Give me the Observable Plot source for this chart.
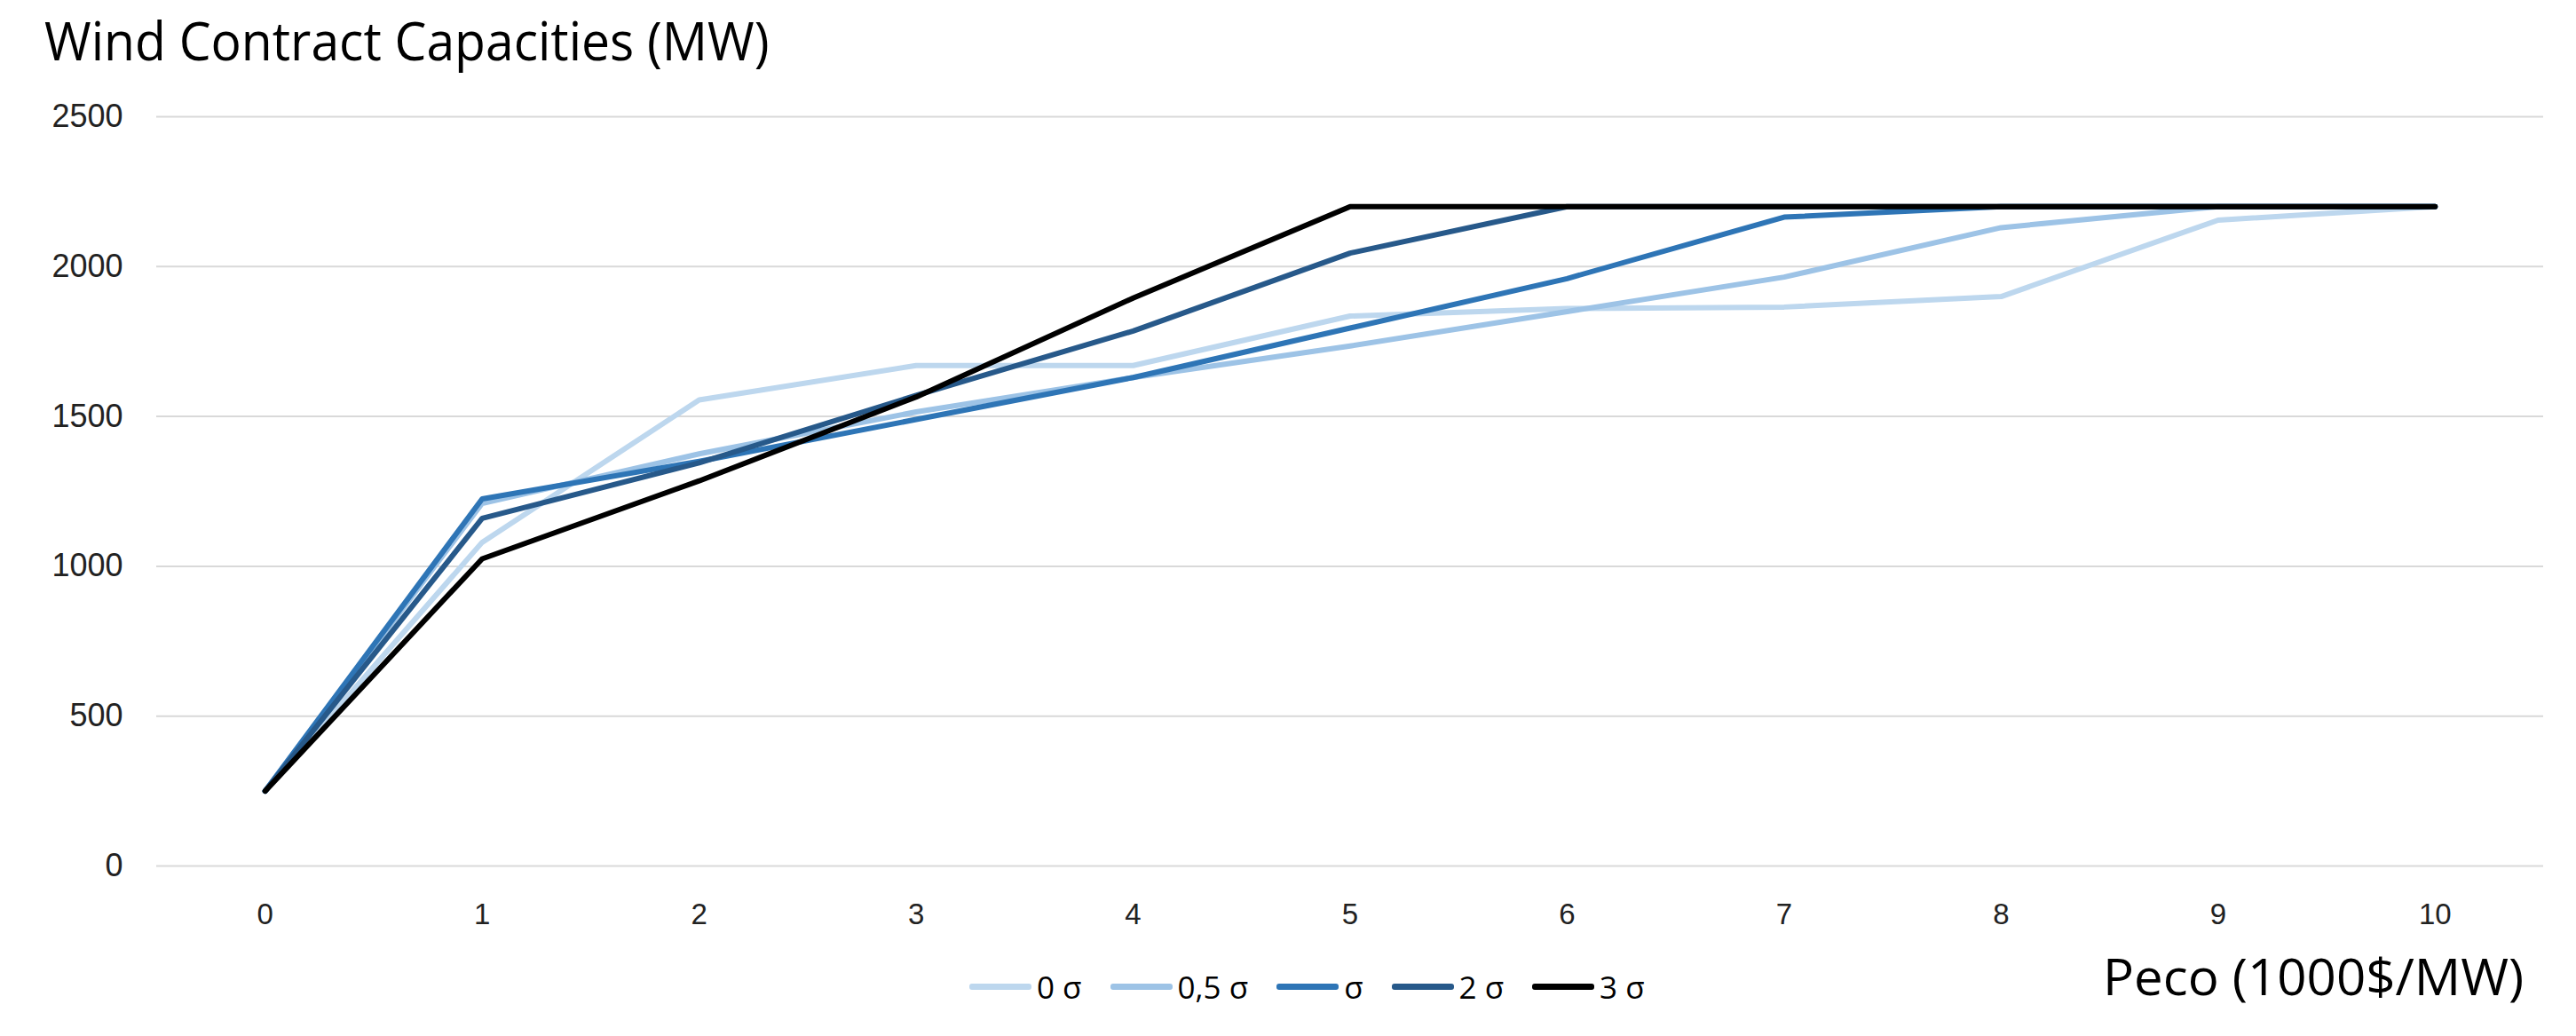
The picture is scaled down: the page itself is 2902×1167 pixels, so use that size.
<!DOCTYPE html>
<html>
<head>
<meta charset="utf-8">
<script src="https://cdn.jsdelivr.net/npm/d3@7"></script>
<script src="https://cdn.jsdelivr.net/npm/@observablehq/plot@0.6"></script>
<style>
  html, body { margin: 0; padding: 0; background: #fff; }
  #wrap { position: relative; width: 2902px; height: 1167px; overflow: hidden; }
  #chart { position: absolute; left: 0; top: 0; }
  #title { position: absolute; left: 50px; top: 4px; font-family: "Open Sans", sans-serif; font-size: 60px; color: #000; white-space: nowrap; transform-origin: left top; transform: scaleX(0.95); }
  #xtitle { position: absolute; left: 2369px; top: 1061px; font-family: "Open Sans", sans-serif; font-size: 56px; color: #000; white-space: nowrap; transform-origin: left top; transform: scaleX(1.04); }
  #legend { position: absolute; left: 1092px; top: 1088px; display: flex; align-items: center; font-family: "Open Sans", sans-serif; font-size: 35px; color: #000; white-space: nowrap; }
  .item { display: flex; align-items: center; margin-right: 32px; }
  .swatch { width: 70px; height: 7px; border-radius: 3px; margin-right: 6px; }
</style>
</head>
<body>
<div id="wrap">
  <div id="chart"></div>
  <div id="title">Wind Contract Capacities (MW)</div>
  <div id="xtitle">Peco (1000$/MW)</div>
  <div id="legend"></div>
</div>
<script>
// Data
const peco = [0, 1, 2, 3, 4, 5, 6, 7, 8, 9, 10];
const seriesNames = ["0 σ", "0,5 σ", "σ", "2 σ", "3 σ"];
const s0sigma   = [250, 1080, 1555, 1670, 1670, 1835, 1860, 1865, 1900, 2155, 2200];
const s05sigma  = [250, 1210, 1375, 1515, 1630, 1735, 1850, 1965, 2130, 2200, 2200];
const s1sigma   = [250, 1225, 1350, 1490, 1630, 1795, 1960, 2165, 2200, 2200, 2200];
const s2sigma   = [250, 1160, 1345, 1570, 1785, 2045, 2200, 2200, 2200, 2200, 2200];
const s3sigma   = [250, 1025, 1285, 1565, 1895, 2200, 2200, 2200, 2200, 2200, 2200];
const seriesColors = ["#bdd7ee", "#9dc3e6", "#2e75b6", "#27598a", "#000000"];
const yTicks = [0, 500, 1000, 1500, 2000, 2500];
const xTicks = [0, 1, 2, 3, 4, 5, 6, 7, 8, 9, 10];

const seriesValues = [s0sigma, s05sigma, s1sigma, s2sigma, s3sigma];
const rows = seriesValues.flatMap((vals, si) =>
  vals.map((v, i) => ({ x: peco[i], y: v, series: seriesNames[si] }))
);

const chart = Plot.plot({
  width: 2902,
  height: 1167,
  marginLeft: 176,
  marginRight: 37,
  marginTop: 131,
  marginBottom: 192,
  style: { fontFamily: "'Liberation Sans', Arial, sans-serif", fontSize: "34px", color: "#222", background: "transparent" },
  x: { domain: [-0.5, 10.5], label: null },
  y: { domain: [0, 2500], label: null },
  color: { domain: seriesNames, range: seriesColors },
  marks: [
    Plot.gridY(yTicks, { stroke: "#d9d9d9", strokeOpacity: 1, strokeWidth: 2 }),
    Plot.axisX({ ticks: xTicks, tickSize: 0, tickPadding: 42, fontSize: 33, fill: "#222", tickFormat: d => String(d), label: null }),
    Plot.axisY({ ticks: yTicks, tickSize: 0, tickPadding: 38, fontSize: 36, fill: "#222", tickFormat: d => String(d), label: null }),
    Plot.line(rows, { x: "x", y: "y", z: "series", stroke: "series", strokeWidth: 6, strokeLinejoin: "round", strokeLinecap: "round" })
  ]
});
document.getElementById("chart").appendChild(chart);

const legend = document.getElementById("legend");
seriesNames.forEach((name, i) => {
  const item = document.createElement("div");
  item.className = "item";
  const sw = document.createElement("div");
  sw.className = "swatch";
  sw.style.background = seriesColors[i];
  const lab = document.createElement("span");
  lab.textContent = name;
  item.appendChild(sw);
  item.appendChild(lab);
  legend.appendChild(item);
});
</script>
</body>
</html>
